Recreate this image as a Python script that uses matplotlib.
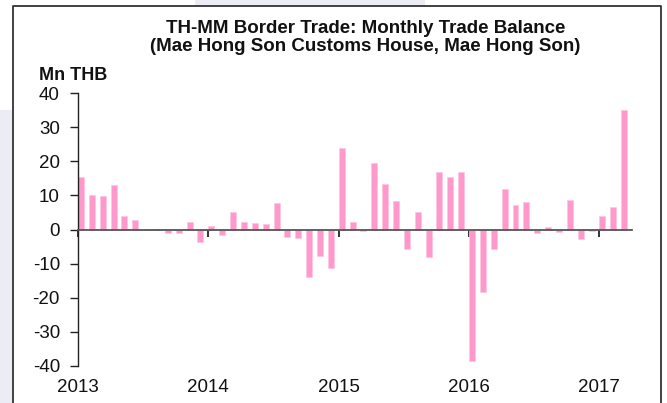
import matplotlib
matplotlib.use("Agg")
import matplotlib.pyplot as plt
from matplotlib.patches import Rectangle
import numpy as np

# Monthly trade balance, Mn THB, Jan 2013 - Mar 2017
months = [f"{y}-{m:02d}" for y in range(2013, 2018) for m in range(1, 13)][:51]
balance = [
    15.5, 10.2, 9.7, 12.9, 4.0, 2.9, 0.0, 0.2, -0.9, -0.9, 2.2, -3.7,   # 2013
    1.1, -1.7, 5.2, 2.2, 1.9, 1.7, 7.7, -2.1, -2.6, -13.8, -7.8, -11.4, # 2014
    23.9, 2.3, -0.3, 19.5, 13.3, 8.4, -5.7, 5.2, -8.2, 16.9, 15.5, 16.9, # 2015
    -38.5, -18.4, -5.6, 11.9, 7.1, 8.1, -0.9, 0.8, -0.6, 8.6, -2.8, -0.3, # 2016
    4.0, 6.6, 35.1,                                                      # 2017
]
year_labels = ["2013", "2014", "2015", "2016", "2017"]
yticks = [40, 30, 20, 10, 0, -10, -20, -30, -40]

title_lines = ["TH-MM Border Trade: Monthly Trade Balance",
               "(Mae Hong Son Customs House, Mae Hong Son)"]
unit = "Mn THB"

plt.rcParams['font.family'] = ['Liberation Sans', 'DejaVu Sans']

W, H = 667, 403
fig = plt.figure(figsize=(W / 100, H / 100), dpi=100, facecolor="white")

# background outside the frame (light lavender) and frame
bg = "#ececf5"
fig.patches.append(Rectangle((0, 0), 13 / W, 1 - 110 / H, transform=fig.transFigure,
                             facecolor=bg, edgecolor="none", zorder=0))
fig.patches.append(Rectangle((195 / W, 1 - 6 / H), 230 / W, 6 / H, transform=fig.transFigure,
                             facecolor=bg, edgecolor="none", zorder=0))
fig.add_artist(plt.Line2D([13 / W, 13 / W, 661 / W, 661 / W], [0, 1 - 6 / H, 1 - 6 / H, 0],
                          transform=fig.transFigure, color="#333333", lw=1.3))

ax = fig.add_axes([78 / W, (H - 366) / H, (632 - 78) / W, (366 - 93) / H])
ax.set_facecolor("none")

x = np.arange(len(balance))
ax.bar(x, balance, width=0.55, align="edge", color="#ff99cc",
       edgecolor="#ffc4e1", linewidth=0.5, zorder=2)

ax.set_xlim(0, len(balance))
ax.set_ylim(-40, 40)

ax.spines['top'].set_visible(False)
ax.spines['right'].set_visible(False)
ax.spines['left'].set_color("#222222")
ax.spines['left'].set_linewidth(1.0)
ax.spines['bottom'].set_position(('data', 0))
ax.spines['bottom'].set_color("#555555")
ax.spines['bottom'].set_linewidth(1.3)

ax.set_yticks(yticks)
ax.set_yticklabels([str(v) for v in yticks])
ax.tick_params(axis='y', direction='out', length=6, width=1.0, color="#222222",
               pad=7, labelsize=13.5, labelcolor="#111111")

ax.set_xticks(np.arange(0, len(balance), 12))
ax.set_xticklabels(year_labels)
ax.tick_params(axis='x', direction='out', length=5, width=1.2, color="#111111",
               pad=(366 - 230 + 7) * 0.72, labelsize=13.5, labelcolor="#111111")

fig.text(366 / W, 1 - 33 / H, title_lines[0], ha="center", va="baseline", fontsize=13.5,
         fontweight="bold", color="#111111")
fig.text(365 / W, 1 - 51 / H, title_lines[1], ha="center", va="baseline", fontsize=13.5,
         fontweight="bold", color="#111111")
fig.text(39 / W, 1 - 80 / H, unit, ha="left", va="baseline", fontsize=13,
         fontweight="bold", color="#111111")

fig.savefig("out.png", dpi=100, facecolor=fig.get_facecolor())
